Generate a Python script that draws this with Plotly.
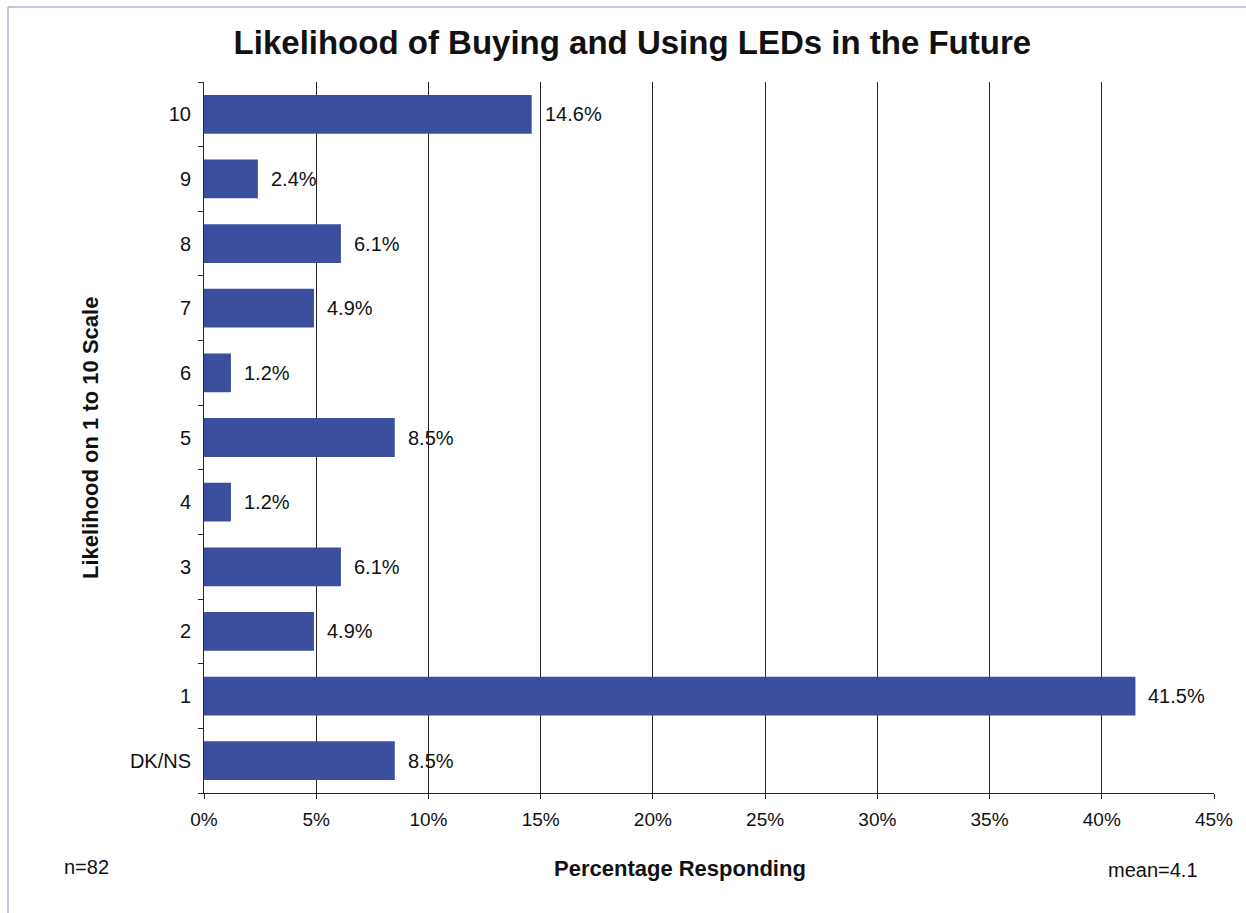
import plotly.graph_objects as go

# Survey responses: likelihood of buying and using LEDs (1-10 scale)
categories = ["DK/NS", "1", "2", "3", "4", "5", "6", "7", "8", "9", "10"]
percentages = [8.5, 41.5, 4.9, 6.1, 1.2, 8.5, 1.2, 4.9, 6.1, 2.4, 14.6]
x_ticks = [0, 5, 10, 15, 20, 25, 30, 35, 40, 45]
x_tick_labels = [f"{t}%" for t in x_ticks]

BAR_COLOR = "#3c4f9f"
TEXT_COLOR = "#111111"
FONT = "Liberation Sans, Arial, sans-serif"

W, H = 1246, 913
L, R, T, B = 204, 32, 82, 120

fig = go.Figure(
    go.Bar(
        x=percentages,
        y=categories,
        orientation="h",
        marker=dict(color=BAR_COLOR, line=dict(width=0)),
        width=0.6,
    )
)

# Value labels placed just past the end of each bar
for cat, val in zip(categories, percentages):
    fig.add_annotation(
        x=val, y=cat, xref="x", yref="y",
        text=f"{val:.1f}%", showarrow=False,
        xanchor="left", yanchor="middle", xshift=11,
        font=dict(family=FONT, size=20, color=TEXT_COLOR),
    )

fig.update_layout(
    width=W,
    height=H,
    margin=dict(l=L, r=R, t=T, b=B),
    paper_bgcolor="white",
    plot_bgcolor="white",
    showlegend=False,
    font=dict(family=FONT, color=TEXT_COLOR),
    title=dict(
        text="<b>Likelihood of Buying and Using LEDs in the Future</b>",
        x=0.5075, xanchor="center",
        y=1 - 42 / H, yanchor="middle",
        font=dict(family=FONT, size=33, color=TEXT_COLOR),
    ),
    xaxis=dict(
        range=[0, 45],
        tickvals=x_ticks,
        ticktext=x_tick_labels,
        tickfont=dict(family=FONT, size=19, color=TEXT_COLOR),
        showgrid=True,
        gridcolor="#262626",
        gridwidth=1,
        showline=True,
        linecolor="#262626",
        linewidth=1,
        ticks="outside",
        ticklen=5,
        tickcolor="#262626",
        ticklabelstandoff=4,
        zeroline=False,
        fixedrange=True,
    ),
    yaxis=dict(
        type="category",
        categoryorder="array",
        categoryarray=categories,
        tickfont=dict(family=FONT, size=20, color=TEXT_COLOR),
        showline=True,
        linecolor="#262626",
        linewidth=1,
        ticks="outside",
        tickson="boundaries",
        ticklen=5,
        tickcolor="#262626",
        ticklabelstandoff=8,
        showgrid=False,
        fixedrange=True,
    ),
)

plot_w = W - L - R
plot_h = H - T - B


def px_to_paper(px, py):
    return (px - L) / plot_w, (H - B - py) / plot_h


annotations = [
    ("<b>Percentage Responding</b>", 680, 868, 22, 0),
    ("<b>Likelihood on 1 to 10 Scale</b>", 90, 438, 22, -90),
    ("n=82", 86, 867, 20, 0),
    ("mean=4.1", 1153, 870, 20, 0),
]
for text, px, py, size, angle in annotations:
    ax, ay = px_to_paper(px, py)
    fig.add_annotation(
        text=text, x=ax, y=ay, xref="paper", yref="paper",
        xanchor="center", yanchor="middle", showarrow=False,
        textangle=angle, font=dict(family=FONT, size=size, color=TEXT_COLOR),
    )

# Thin frame along the top and left edges of the chart area
x0, y_top = px_to_paper(8, 7)
x1, _ = px_to_paper(1246, 7)
_, y_bot = px_to_paper(8, 913)
fig.add_shape(type="line", xref="paper", yref="paper", x0=x0, x1=x1, y0=y_top, y1=y_top,
              line=dict(color="#8a93b8", width=1))
fig.add_shape(type="line", xref="paper", yref="paper", x0=x0, x1=x0, y0=y_top, y1=y_bot,
              line=dict(color="#8a93b8", width=1))

fig.write_html("out.html")
